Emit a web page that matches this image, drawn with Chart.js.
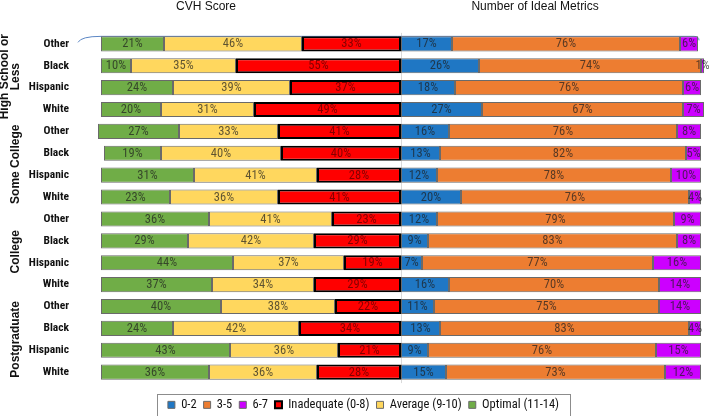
<!DOCTYPE html>
<html><head><meta charset="utf-8">
<script src="https://cdn.jsdelivr.net/npm/chart.js@4/dist/chart.umd.min.js"></script>
<style>html,body{margin:0;padding:0;background:#fff}#wrap{width:709px;height:416px;position:relative}</style>
</head><body><div id="wrap"><canvas id="c"></canvas></div>
<script>
const groups = ['High School or Less', 'Some College', 'College', 'Postgraduate'];
const races = ['Other', 'Black', 'Hispanic', 'White'];
const categories = [
  'Other','Black','Hispanic','White',
  'Other','Black','Hispanic','White',
  'Other','Black','Hispanic','White',
  'Other','Black','Hispanic','White'
];
// CVH Score (left side)
const optimal    = [21,10,24,20, 27,19,31,23, 36,29,44,37, 40,24,43,36];
const average    = [46,35,39,31, 33,40,41,36, 41,42,37,34, 38,42,36,36];
const inadequate = [33,55,37,49, 41,40,28,41, 23,29,19,29, 22,34,21,28];
// Number of Ideal Metrics (right side)
const m0to2 = [17,26,18,27, 16,13,12,20, 12, 9, 7,16, 11,13, 9,15];
const m3to5 = [76,74,76,67, 76,82,78,76, 79,83,77,70, 75,83,76,73];
const m6to7 = [ 6, 1, 6, 7,  8, 5,10, 4,  9, 8,16,14, 14, 4,15,12];

const titles = ['CVH Score', 'Number of Ideal Metrics'];
const seriesNames = ['0-2', '3-5', '6-7', 'Inadequate (0-8)', 'Average (9-10)', 'Optimal (11-14)'];

const NARROW = "'Roboto Condensed', 'Liberation Sans Narrow', 'Liberation Sans', Arial, sans-serif";
const SANS = "'Liberation Sans', Arial, sans-serif";

const neg = a => a.map(v => -v);

const labelPlugin = {
  id: 'segLabels',
  afterDatasetsDraw(chart) {
    const ctx = chart.ctx;
    ctx.save();
    ctx.font = "12.5px " + NARROW;
    ctx.textAlign = 'center';
    ctx.textBaseline = 'middle';
    chart.data.datasets.forEach((ds, di) => {
      const meta = chart.getDatasetMeta(di);
      if (meta.hidden) return;
      ctx.fillStyle = di === 3 ? 'rgba(110,0,0,0.85)' : 'rgba(30,30,30,0.72)';
      meta.data.forEach((el, i) => {
        const p = el.getProps(['x', 'base', 'y'], true);
        ctx.fillText(Math.abs(ds.data[i]) + '%', (p.x + p.base) / 2, p.y + 0.5);
      });
    });
    ctx.restore();
  }
};

const decoPlugin = {
  id: 'deco',
  beforeDatasetsDraw(chart) {
    const ctx = chart.ctx, xs = chart.scales.x, ys = chart.scales.y;
    const ca = chart.chartArea;
    ctx.save();
    const cx = xs.getPixelForValue(0);
    ctx.strokeStyle = '#d9d9d9';
    ctx.lineWidth = 1;
    ctx.beginPath();
    ctx.moveTo(cx + 0.5, ca.top);
    ctx.lineTo(cx + 0.5, ca.bottom);
    ctx.stroke();
    const yt = ys.getPixelForValue(0) - 7.5;
    const xl = xs.getPixelForValue(-100), xr = xs.getPixelForValue(99);
    ctx.strokeStyle = '#5b86c4';
    ctx.beginPath();
    ctx.moveTo(xl - 23, yt + 6);
    ctx.quadraticCurveTo(xl - 20, yt, xl, yt);
    ctx.lineTo(xr - 4, yt);
    ctx.quadraticCurveTo(xr + 1, yt, xr + 1, yt + 4);
    ctx.stroke();
    ctx.restore();
  },
  afterDraw(chart) {
    const ctx = chart.ctx, xs = chart.scales.x, ys = chart.scales.y;
    ctx.save();
    ctx.font = "12px " + SANS;
    ctx.fillStyle = '#111';
    ctx.textAlign = 'center';
    ctx.textBaseline = 'middle';
    ctx.fillText(titles[0], xs.getPixelForValue(-65), 7);
    ctx.fillText(titles[1], xs.getPixelForValue(44.7), 7);
    ctx.font = "bold 12px " + SANS;
    groups.forEach((g, gi) => {
      const yc = (ys.getPixelForValue(gi * 4) + ys.getPixelForValue(gi * 4 + 3)) / 2;
      ctx.save();
      if (gi === 0) {
        ctx.translate(5, yc);
        ctx.rotate(-Math.PI / 2);
        ctx.fillText('High School or', 0, 0);
        ctx.restore();
        ctx.save();
        ctx.translate(16, yc);
        ctx.rotate(-Math.PI / 2);
        ctx.fillText('Less', 0, 0);
      } else {
        ctx.translate(16, yc);
        ctx.rotate(-Math.PI / 2);
        ctx.fillText(g, 0, 0);
      }
      ctx.restore();
    });
    const lg = chart.legend;
    if (lg && lg.legendHitBoxes && lg.legendHitBoxes.length) {
      let l = Infinity, r = -Infinity, t = Infinity, b = -Infinity;
      lg.legendHitBoxes.forEach(h => {
        l = Math.min(l, h.left); r = Math.max(r, h.left + h.width);
        t = Math.min(t, h.top); b = Math.max(b, h.top + h.height);
      });
      ctx.strokeStyle = '#8c8c8c';
      ctx.lineWidth = 1;
      const cy = (t + b) / 2;
      ctx.strokeRect(Math.round(l - 11) + 0.5, Math.round(cy - 11) + 0.5, Math.round(r - l + 22), 22);
    }
    ctx.restore();
  }
};

const thin = '#6a6a6a';
const data = {
  labels: categories,
  datasets: [
    { label: seriesNames[0], data: m0to2, backgroundColor: '#1F77C4', borderColor: thin, borderWidth: 1 },
    { label: seriesNames[1], data: m3to5, backgroundColor: '#ED7D31', borderColor: thin, borderWidth: 1 },
    { label: seriesNames[2], data: m6to7, backgroundColor: '#CC00FF', borderColor: thin, borderWidth: 1 },
    { label: seriesNames[3], data: neg(inadequate), backgroundColor: '#FF0000', borderColor: '#000', borderWidth: 2 },
    { label: seriesNames[4], data: neg(average), backgroundColor: '#FFD75E', borderColor: thin, borderWidth: 1 },
    { label: seriesNames[5], data: neg(optimal), backgroundColor: '#70AD47', borderColor: thin, borderWidth: 1 }
  ]
};
data.datasets.forEach(d => { d.borderSkipped = false; d.barPercentage = 0.69; d.categoryPercentage = 1; });

new Chart(document.getElementById('c'), {
  type: 'bar',
  data,
  options: {
    indexAxis: 'y',
    responsive: true,
    maintainAspectRatio: false,
    animation: false,
    layout: { padding: { left: 20, right: 2, top: 19, bottom: -6 } },
    scales: {
      x: { stacked: true, display: false, min: -102, max: 102 },
      y: {
        stacked: true,
        grid: { display: false, drawTicks: false },
        border: { display: false },
        ticks: { padding: 26, color: '#111', font: { family: NARROW, size: 11.5, weight: 'bold' } },
        afterFit(s) { s.width = 75; }
      }
    },
    plugins: {
      legend: {
        position: 'bottom',
        title: { display: true, text: '', font: { size: 1 }, padding: { top: 7.3, bottom: 0 } },
        labels: {
          boxWidth: 7, boxHeight: 7, padding: 7, color: '#111',
          font: { family: NARROW, size: 12.5 }
        }
      },
      tooltip: { enabled: false }
    }
  },
  plugins: [labelPlugin, decoPlugin]
});
</script>
</body></html>
